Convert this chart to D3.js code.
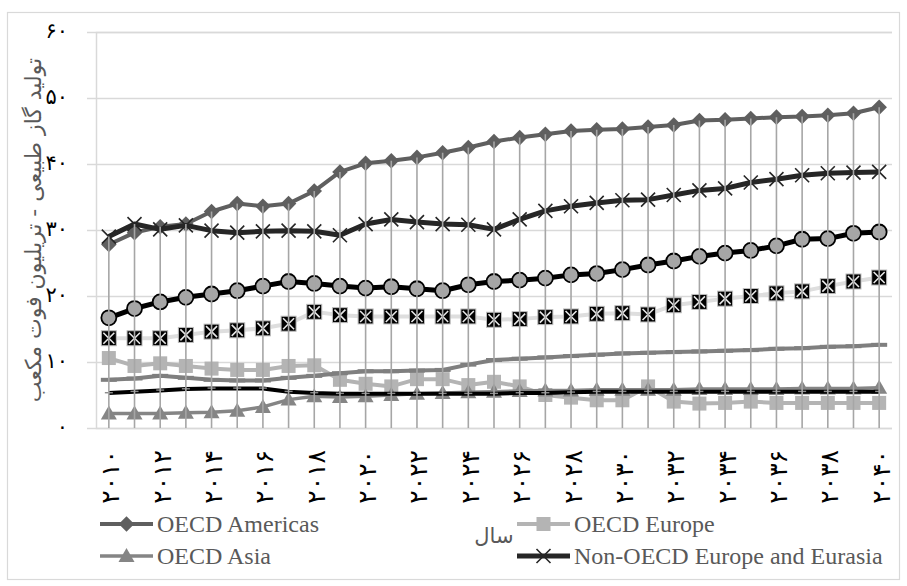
<!DOCTYPE html>
<html>
<head>
<meta charset="utf-8">
<script src="https://cdn.jsdelivr.net/npm/d3@7"></script>
<style>
  html, body { margin: 0; padding: 0; background: #fff; }
  svg { display: block; }
  .legend-text { font-family: "Liberation Serif", "Times New Roman", Times, Tinos, "Noto Serif", "DejaVu Serif", serif; }
</style>
</head>
<body>
<svg id="chart" width="907" height="586"></svg>
<script>
// Natural gas production by region, 2010-2040 (trillion cubic feet)
const years = [2010, 2011, 2012, 2013, 2014, 2015, 2016, 2017, 2018, 2019, 2020,
  2021, 2022, 2023, 2024, 2025, 2026, 2027, 2028, 2029, 2030,
  2031, 2032, 2033, 2034, 2035, 2036, 2037, 2038, 2039, 2040];

const oecdAmericas = [27.8, 29.6, 30.5, 30.9, 32.8, 34.0, 33.6, 34.0, 35.9, 38.8, 40.1,
  40.5, 41.0, 41.7, 42.5, 43.4, 44.0, 44.5, 45.0, 45.2, 45.3,
  45.6, 45.9, 46.6, 46.7, 46.9, 47.1, 47.2, 47.4, 47.7, 48.6];
const oecdEurope = [10.6, 9.4, 9.8, 9.4, 9.0, 8.8, 8.8, 9.4, 9.5, 7.3, 6.7,
  6.3, 7.4, 7.4, 6.5, 7.0, 6.3, 5.0, 4.6, 4.2, 4.2,
  6.3, 4.0, 3.7, 3.8, 4.0, 3.8, 3.8, 3.8, 3.8, 3.8];
const oecdAsia = [2.2, 2.2, 2.2, 2.3, 2.4, 2.6, 3.2, 4.3, 4.8, 4.7, 4.8,
  5.0, 5.2, 5.3, 5.4, 5.5, 5.6, 5.7, 5.7, 5.8, 5.8,
  5.8, 5.8, 5.9, 5.9, 5.9, 5.9, 6.0, 6.0, 6.0, 6.1];
const nonOecdEurope = [29.0, 30.9, 30.1, 30.7, 29.9, 29.6, 29.8, 29.9, 29.8, 29.2, 30.9,
  31.6, 31.2, 30.9, 30.8, 30.1, 31.6, 32.9, 33.6, 34.1, 34.5,
  34.6, 35.3, 36.0, 36.3, 37.2, 37.7, 38.3, 38.6, 38.7, 38.8];
const middleEast = [16.7, 18.1, 19.1, 19.8, 20.3, 20.8, 21.5, 22.2, 21.9, 21.5, 21.2,
  21.4, 21.1, 20.8, 21.7, 22.2, 22.4, 22.7, 23.2, 23.4, 24.0,
  24.7, 25.3, 26.0, 26.5, 26.9, 27.6, 28.6, 28.7, 29.5, 29.7];
const nonOecdAsia = [13.6, 13.6, 13.6, 14.1, 14.6, 14.8, 15.1, 15.8, 17.6, 17.1, 16.9,
  16.9, 16.9, 16.9, 16.9, 16.4, 16.5, 16.8, 16.9, 17.3, 17.4,
  17.2, 18.6, 19.1, 19.6, 20.0, 20.4, 20.7, 21.5, 22.2, 22.8];
const africa = [7.3, 7.5, 7.9, 7.6, 7.3, 7.2, 7.2, 7.6, 7.9, 8.3, 8.6,
  8.6, 8.7, 8.8, 9.6, 10.3, 10.5, 10.7, 10.9, 11.1, 11.3,
  11.4, 11.5, 11.6, 11.7, 11.8, 12.0, 12.1, 12.3, 12.4, 12.6];
const centralSouthAmerica = [5.3, 5.5, 5.7, 5.9, 6.0, 6.0, 6.0, 5.5, 5.3, 5.2, 5.2,
  5.2, 5.2, 5.2, 5.2, 5.2, 5.3, 5.3, 5.4, 5.5, 5.5,
  5.5, 5.5, 5.5, 5.5, 5.5, 5.5, 5.5, 5.5, 5.5, 5.5];

const yTicks = [0, 10, 20, 30, 40, 50, 60];
const yTickLabels = ['۰', '۱۰', '۲۰', '۳۰', '۴۰', '۵۰', '۶۰'];
const xTickYears = [2010, 2012, 2014, 2016, 2018, 2020, 2022, 2024,
  2026, 2028, 2030, 2032, 2034, 2036, 2038, 2040];
const xTickLabels = ['۲۰۱۰', '۲۰۱۲', '۲۰۱۴', '۲۰۱۶', '۲۰۱۸', '۲۰۲۰', '۲۰۲۲', '۲۰۲۴',
  '۲۰۲۶', '۲۰۲۸', '۲۰۳۰', '۲۰۳۲', '۲۰۳۴', '۲۰۳۶', '۲۰۳۸', '۲۰۴۰'];

const yTitle = 'تولید گاز طبیعی - تریلیون فوت مکعب';
const xTitle = 'سال';

// Series table: draw order follows this list (later ones on top)
const series = [
  { name: 'OECD Americas', values: oecdAmericas, line: '#5f5f5f', width: 4, marker: 'diamond', fill: '#5f5f5f', legend: true },
  { name: 'OECD Europe', values: oecdEurope, line: '#b4b4b4', width: 4, marker: 'square', fill: '#b4b4b4', legend: true },
  { name: 'OECD Asia', values: oecdAsia, line: '#858585', width: 3.5, marker: 'triangle', fill: '#858585', legend: true },
  { name: 'Non-OECD Europe and Eurasia', values: nonOecdEurope, line: '#262626', width: 5, marker: 'x', fill: '#262626', legend: true },
  { name: 'Middle East', values: middleEast, line: '#000000', width: 5, marker: 'circle', fill: '#a6a6a6', legend: false },
  { name: 'Non-OECD Asia', values: nonOecdAsia, line: '#dedede', width: 4, marker: 'boxx', fill: '#000000', legend: false },
  { name: 'Africa', values: africa, line: '#7f7f7f', width: 4, marker: 'wide', fill: '#7f7f7f', legend: false },
  { name: 'Central and South America', values: centralSouthAmerica, line: '#000000', width: 4, marker: 'dash', fill: '#000000', legend: false }
];

const svg = d3.select('#chart');
const plot = { left: 96, right: 892, top: 32, bottom: 428 };

// chart frame
svg.append('rect')
  .attr('x', 7.5).attr('y', 12.5).attr('width', 892).attr('height', 567)
  .attr('fill', '#fff').attr('stroke', '#d9d9d9').attr('stroke-width', 1.2);

const x = d3.scaleBand().domain(years).range([plot.left, plot.right]).padding(0);
const cx = d => x(d) + x.bandwidth() / 2;
const y = d3.scaleLinear().domain([0, 60]).range([plot.bottom, plot.top]);

const faFont = '"DejaVu Sans", sans-serif';

// value axis with gridlines
const yAxis = d3.axisLeft(y)
  .tickValues(yTicks)
  .tickFormat((d, i) => yTickLabels[i])
  .tickSize(-(plot.right - plot.left))
  .tickPadding(28);
const gy = svg.append('g').attr('transform', `translate(${plot.left},0)`).call(yAxis);
gy.select('.domain').attr('stroke', '#d9d9d9').attr('stroke-width', 1.5);
gy.selectAll('.tick line').attr('x1', -9).attr('stroke', '#d9d9d9').attr('stroke-width', 1.5);
gy.selectAll('.tick text')
  .attr('font-family', faFont).attr('font-size', 21).attr('fill', '#000')
  .attr('dy', '0.25em');

// category axis
const xAxis = d3.axisBottom(x)
  .tickValues(xTickYears)
  .tickFormat((d, i) => xTickLabels[i])
  .tickSize(0);
const gx = svg.append('g').attr('transform', `translate(0,${plot.bottom})`).call(xAxis);
gx.select('.domain').remove();
gx.selectAll('.tick text')
  .attr('font-family', faFont).attr('font-size', 25).attr('fill', '#000')
  .attr('x', 0).attr('y', 0).attr('dy', '0.3em')
  .attr('text-anchor', 'end')
  .attr('transform', 'translate(3,22) rotate(-90)');

// series lines
const lineGen = vals => d3.line().x((d, i) => cx(years[i])).y(d => y(d))(vals);
const gSeries = svg.append('g');

series.forEach(s => {
  const g = gSeries.append('g');
  g.append('path')
    .attr('d', lineGen(s.values))
    .attr('fill', 'none').attr('stroke', s.line).attr('stroke-width', s.width)
    .attr('stroke-linejoin', 'round');
  const pts = g.selectAll('g.pt').data(s.values).join('g')
    .attr('class', 'pt')
    .attr('transform', (d, i) => `translate(${cx(years[i])},${y(d)})`);
  drawMarker(pts, s);
});

function drawMarker(sel, s) {
  switch (s.marker) {
    case 'diamond':
      sel.append('rect').attr('x', -5.5).attr('y', -5.5).attr('width', 11).attr('height', 11)
        .attr('transform', 'rotate(45)').attr('fill', s.fill);
      break;
    case 'square':
      sel.append('rect').attr('x', -7).attr('y', -7).attr('width', 14).attr('height', 14)
        .attr('fill', s.fill);
      break;
    case 'triangle':
      sel.append('path').attr('d', 'M0,-8L8,6L-8,6Z').attr('fill', s.fill);
      break;
    case 'x':
      sel.append('path').attr('d', 'M-7,-7L7,7M-7,7L7,-7')
        .attr('stroke', s.fill).attr('stroke-width', 1.6).attr('fill', 'none');
      break;
    case 'circle':
      sel.append('circle').attr('r', 7.5).attr('fill', s.fill)
        .attr('stroke', '#000').attr('stroke-width', 1.8);
      break;
    case 'boxx':
      sel.append('rect').attr('x', -7.5).attr('y', -7.5).attr('width', 15).attr('height', 15)
        .attr('fill', '#000').attr('stroke', '#bdbdbd').attr('stroke-width', 1);
      sel.append('path').attr('d', 'M-5.5,-5.5L5.5,5.5M-5.5,5.5L5.5,-5.5')
        .attr('stroke', '#e6e6e6').attr('stroke-width', 1.6);
      break;
    case 'wide':
      sel.append('rect').attr('x', -8).attr('y', -2).attr('width', 16).attr('height', 4)
        .attr('fill', s.fill);
      break;
    case 'dash':
      sel.append('rect').attr('x', -4).attr('y', -1).attr('width', 8).attr('height', 1.4)
        .attr('fill', '#8a8a8a');
      break;
  }
}

// drop lines from the highest value in each year down to the axis
const tops = years.map((yr, i) => d3.max(series, s => s.values[i]));
svg.append('g').selectAll('line').data(tops).join('line')
  .attr('x1', (d, i) => cx(years[i])).attr('x2', (d, i) => cx(years[i]))
  .attr('y1', d => y(d)).attr('y2', plot.bottom)
  .attr('stroke', '#a6a6a6').attr('stroke-width', 1.6);

// axis titles
svg.append('text')
  .attr('transform', `translate(33,${(plot.top + plot.bottom) / 2}) rotate(-90)`)
  .attr('text-anchor', 'middle').attr('dy', '0.35em')
  .attr('font-family', faFont).attr('font-size', 22).attr('fill', '#595959')
  .text(yTitle);

svg.append('text')
  .attr('x', (plot.left + plot.right) / 2).attr('y', 543)
  .attr('text-anchor', 'middle')
  .attr('font-family', faFont).attr('font-size', 21).attr('fill', '#595959')
  .text(xTitle);

// legend
const legendItems = series.filter(s => s.legend);
const legendPos = [[100, 524], [517, 524], [100, 556], [517, 556]];
const gl = svg.append('g');
legendItems.forEach((s, i) => {
  const [lx, ly] = legendPos[i];
  const g = gl.append('g').attr('transform', `translate(${lx},${ly})`);
  g.append('line').attr('x1', 0).attr('x2', 53).attr('y1', 0).attr('y2', 0)
    .attr('stroke', s.line).attr('stroke-width', s.width);
  const m = g.append('g').attr('transform', 'translate(26.5,0)');
  drawMarker(m, s);
  g.append('text').attr('class', 'legend-text').attr('x', 57).attr('y', 8)
    .attr('font-size', 24).attr('fill', '#595959')
    .text(s.name);
});
</script>
</body>
</html>
